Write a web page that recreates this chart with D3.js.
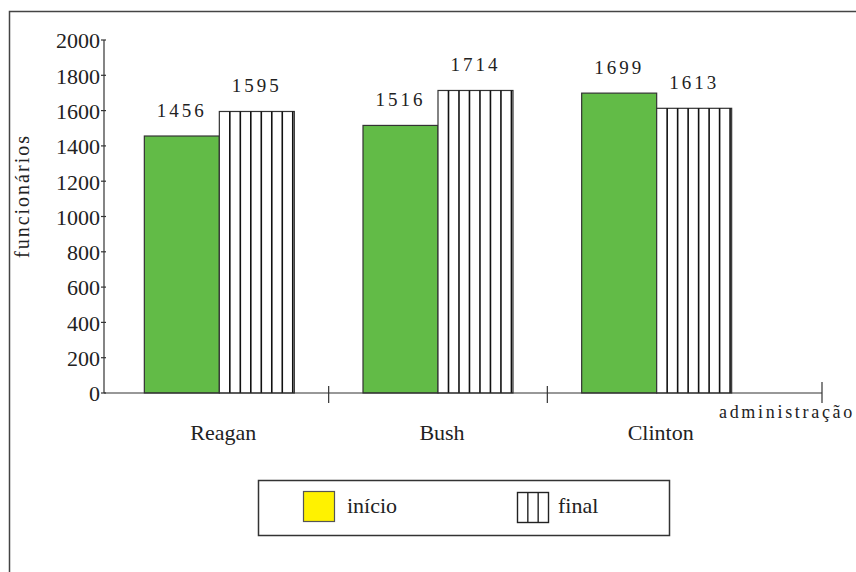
<!DOCTYPE html>
<html>
<head>
<meta charset="utf-8">
<script src="https://cdn.jsdelivr.net/npm/d3@7/dist/d3.min.js"></script>
<style>
  html, body { margin: 0; padding: 0; background: #fff; }
  svg { display: block; }
  text { font-family: "Liberation Serif", "Times New Roman", serif; fill: #222; }
</style>
</head>
<body>
<svg id="chart" width="856" height="572"></svg>
<script>
// Administrations and employee counts at the start and end of each term
const administrations = ["Reagan", "Bush", "Clinton"];
const series = ["início", "final"];
const inicioValues = [1456, 1516, 1699];
const finalValues = [1595, 1714, 1613];
const yTicks = [0, 200, 400, 600, 800, 1000, 1200, 1400, 1600, 1800, 2000];

const rows = administrations.map((name, i) => ({
  name,
  values: [
    { key: series[0], value: inicioValues[i] },
    { key: series[1], value: finalValues[i] }
  ]
}));

const svg = d3.select("#chart");
const GREEN = "#62bb47";
const INK = "#333";

// Outer frame (open towards the right and bottom edges)
svg.append("rect")
  .attr("x", 9.5).attr("y", 11.5)
  .attr("width", 900).attr("height", 600)
  .attr("fill", "none").attr("stroke", "#444").attr("stroke-width", 1.5);

const axisX = 104, baseY = 393, axisEnd = 822;

const y = d3.scaleLinear().domain([0, 2000]).range([baseY, 40]);
const x0 = d3.scaleBand().domain(administrations).range([110, 766]);
const x1 = d3.scaleBand().domain(series).range([0, x0.bandwidth()]).paddingOuter(0.4578);

// Y axis
const yAxis = svg.append("g");
yAxis.append("line")
  .attr("x1", axisX).attr("x2", axisX)
  .attr("y1", y(2000)).attr("y2", baseY)
  .attr("stroke", INK).attr("stroke-width", 1.2);
const yt = yAxis.selectAll("g.tick").data(yTicks).join("g").attr("class", "tick")
  .attr("transform", d => `translate(0,${y(d)})`);
yt.append("line").attr("x1", axisX - 3).attr("x2", axisX + 2)
  .attr("stroke", INK).attr("stroke-width", 1.2);
yt.append("text")
  .attr("x", axisX - 4).attr("dy", "0.38em")
  .attr("text-anchor", "end")
  .attr("font-size", 22)
  .text(d => d);

// Y title
svg.append("text")
  .attr("transform", `translate(29,196) rotate(-90)`)
  .attr("text-anchor", "middle")
  .attr("font-size", 20)
  .attr("letter-spacing", 2)
  .text("funcionários");

// Bars
const groups = svg.append("g").selectAll("g.grp").data(rows).join("g")
  .attr("class", "grp")
  .attr("transform", d => `translate(${x0(d.name)},0)`);

groups.each(function (row) {
  const g = d3.select(this);
  row.values.forEach(v => {
    const bx = x1(v.key), bw = x1.bandwidth();
    const top = y(v.value);
    g.append("rect")
      .attr("x", bx).attr("y", top)
      .attr("width", bw).attr("height", baseY - top)
      .attr("fill", v.key === "início" ? GREEN : "#fff")
      .attr("stroke", INK).attr("stroke-width", 1.2);
    if (v.key === "final") {
      const step = bw / 7.15;
      const xs = d3.range(1, 8).map(i => bx + i * step).filter(px => px < bx + bw - 1);
      g.selectAll(null).data(xs).join("line")
        .attr("x1", d => d).attr("x2", d => d)
        .attr("y1", top).attr("y2", baseY)
        .attr("stroke", "#111").attr("stroke-width", 1.6);
    }
    g.append("text")
      .attr("x", bx + bw / 2).attr("y", top - 19)
      .attr("text-anchor", "middle")
      .attr("font-size", 19)
      .attr("letter-spacing", 3)
      .text(v.value);
  });
});

// X axis
const xAxis = svg.append("g");
xAxis.append("line")
  .attr("x1", axisX).attr("x2", axisEnd)
  .attr("y1", baseY).attr("y2", baseY)
  .attr("stroke", INK).attr("stroke-width", 1.2);
const bounds = administrations.slice(1).map(a => x0(a));
xAxis.selectAll("line.sep").data(bounds).join("line").attr("class", "sep")
  .attr("x1", d => d).attr("x2", d => d)
  .attr("y1", baseY - 7).attr("y2", baseY + 10)
  .attr("stroke", INK).attr("stroke-width", 1.2);
xAxis.append("line")
  .attr("x1", axisEnd).attr("x2", axisEnd)
  .attr("y1", baseY - 11).attr("y2", baseY + 10)
  .attr("stroke", INK).attr("stroke-width", 1.2);
xAxis.selectAll("text.cat").data(administrations).join("text").attr("class", "cat")
  .attr("x", d => x0(d) + x0.bandwidth() / 2 + 4)
  .attr("y", 440)
  .attr("text-anchor", "middle")
  .attr("font-size", 22)
  .text(d => d);
xAxis.append("text")
  .attr("x", 855).attr("y", 418)
  .attr("text-anchor", "end")
  .attr("font-size", 18)
  .attr("letter-spacing", 2.7)
  .text("administração");

// Legend
const legend = svg.append("g");
legend.append("rect")
  .attr("x", 258.5).attr("y", 480.5).attr("width", 411).attr("height", 55)
  .attr("fill", "#fff").attr("stroke", INK).attr("stroke-width", 1.5);
legend.append("rect")
  .attr("x", 303.5).attr("y", 491.5).attr("width", 31).attr("height", 30)
  .attr("fill", "#fff200").attr("stroke", "#555").attr("stroke-width", 1.2);
legend.append("text").attr("x", 347).attr("y", 513).attr("font-size", 22).text(series[0]);
legend.append("rect")
  .attr("x", 517.5).attr("y", 492.5).attr("width", 31).attr("height", 30)
  .attr("fill", "#fff").attr("stroke", "#222").attr("stroke-width", 1.4);
legend.selectAll("line.lh").data([1, 2]).join("line").attr("class", "lh")
  .attr("x1", d => 517.5 + d * 31 / 3).attr("x2", d => 517.5 + d * 31 / 3)
  .attr("y1", 492.5).attr("y2", 522.5)
  .attr("stroke", "#222").attr("stroke-width", 1.4);
legend.append("text").attr("x", 558).attr("y", 513).attr("font-size", 22).text(series[1]);
</script>
</body>
</html>
